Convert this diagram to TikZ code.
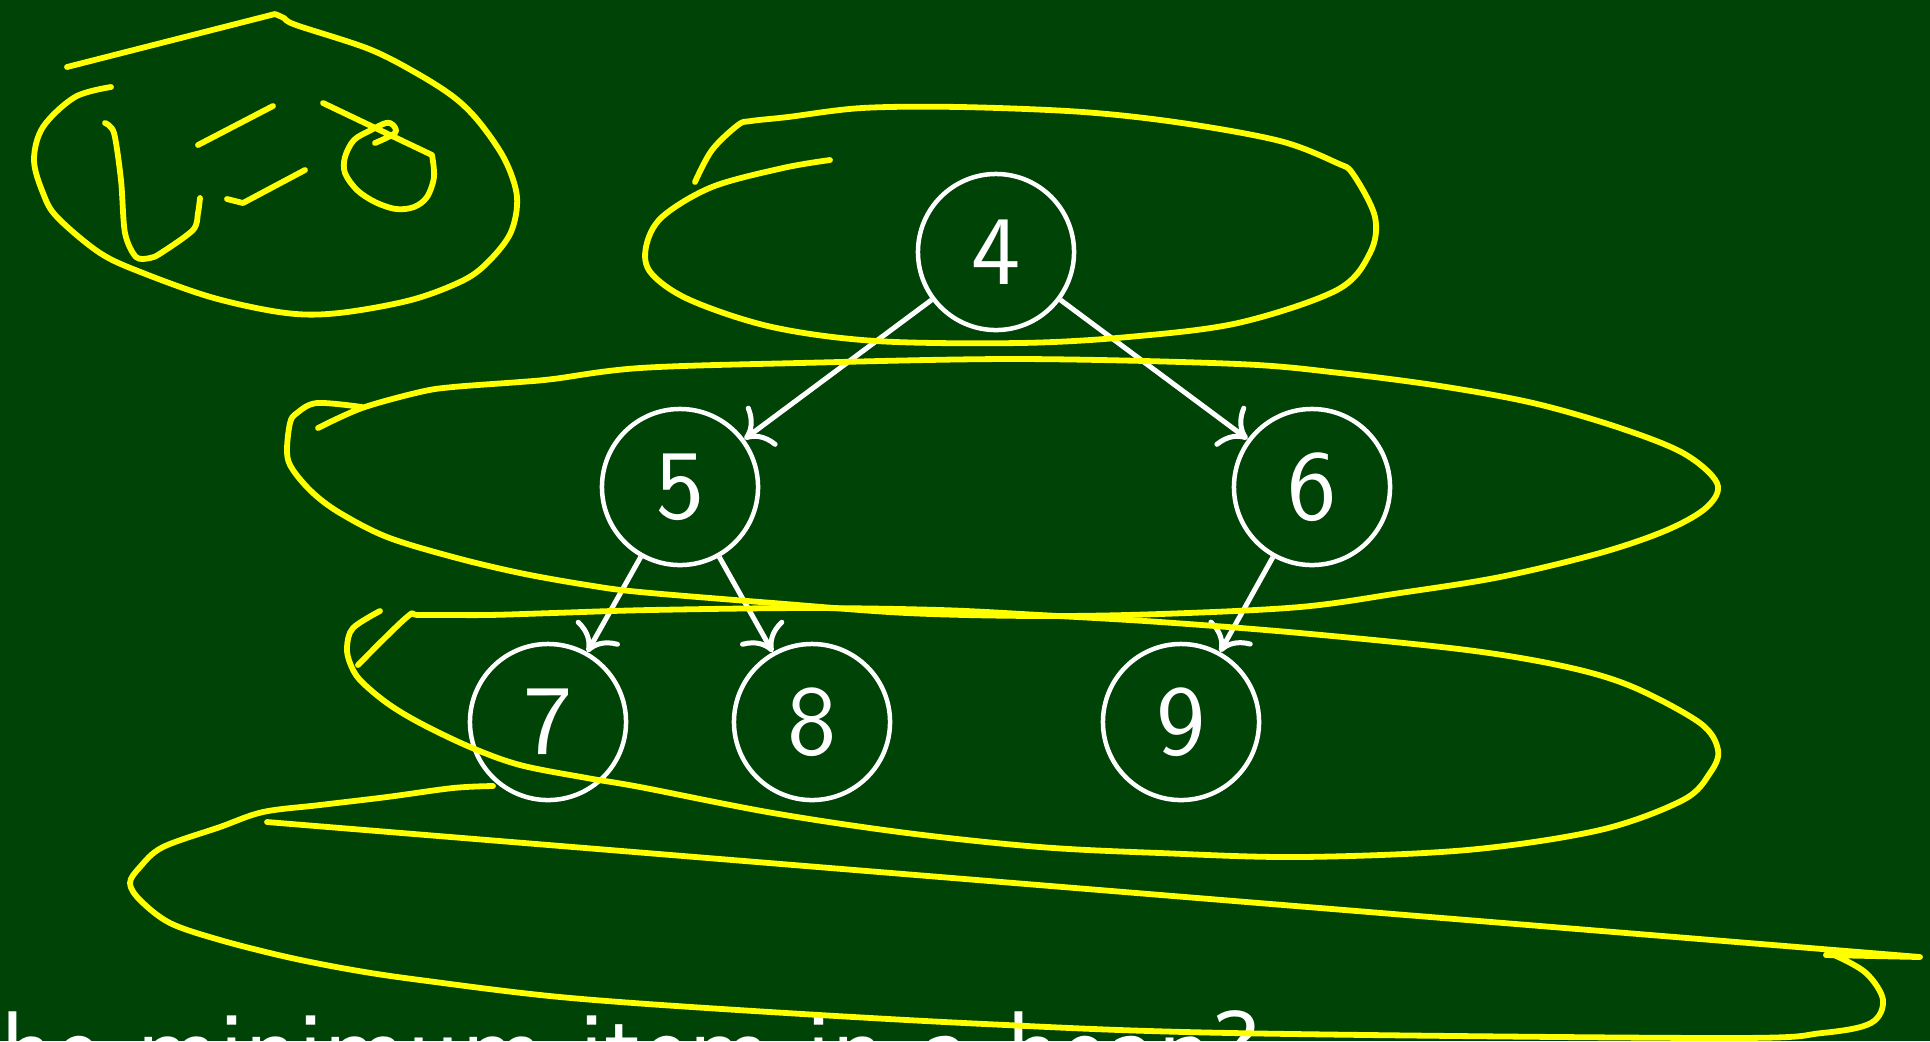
\documentclass[tikz,border=0pt]{standalone}
\usepackage{fontspec}
\newfontfamily\slidesans{lmsans10-regular}[Extension=.otf]
\usetikzlibrary{arrows.meta}
\definecolor{board}{RGB}{0,67,7}
\definecolor{marker}{RGB}{255,255,0}
\begin{document}
\begin{tikzpicture}[x=0.01cm,y=-0.01cm,
  heapnode/.style={circle,draw=white,line width=0.045cm,minimum size=1.56cm,inner sep=0pt,text=white,font=\slidesans\fontsize{28pt}{34pt}\selectfont},
  edgearrow/.style={draw=white,line width=0.05cm,-{Computer Modern Rightarrow[length=0.24cm,width=0.5cm]}},
  ink/.style={draw=marker,line width=0.058cm,line cap=round,line join=round}]
\useasboundingbox (0,0) rectangle (1930,1041);
\fill[board] (0,0) rectangle (1930,1041);
\clip (0,0) rectangle (1930,1041);

% bottom text (cut off by the page edge)
\node[anchor=base west,inner sep=0pt,text=white,font=\slidesans\fontsize{29.8pt}{35pt}\selectfont] (question) at (0,1084) {he minimum item in a heap?};

% tree
\node[heapnode] (n4) at (996,252) {4};
\node[heapnode] (n5) at (680,487) {5};
\node[heapnode] (n6) at (1312,487) {6};
\node[heapnode] (n7) at (548,722) {7};
\node[heapnode] (n8) at (812,722) {8};
\node[heapnode] (n9) at (1181,722) {9};
\draw[edgearrow] (n4) -- (n5);
\draw[edgearrow] (n4) -- (n6);
\draw[edgearrow] (n5) -- (n7);
\draw[edgearrow] (n5) -- (n8);
\draw[edgearrow] (n6) -- (n9);

% L=0 annotation
\draw[ink] (67,67) -- (275,14) plot[smooth,tension=0.55] coordinates {(275,14) (284,18) (296,25) (369,49) (418,74) (455,98) (480,123) (505,160) (517,197) (511,232) (490,260) (464,280) (411,300) (339,313) (286,313) (214,298) (143,273) (100,253) (57,217) (43,193) (34,160) (43,127) (75,97) (111,87)};
\draw[ink] plot[smooth,tension=0.5] coordinates {(105,123) (114,133) (121,180) (125,233) (136,257) (150,258) (161,253) (193,230) (198,213) (200,198)};
\draw[ink] (198,145) -- (273,106);
\draw[ink] (227,199) -- (243,203) -- (305,170);
\draw[ink] (323,103) -- (432,155) plot[smooth,tension=0.55] coordinates {(432,155) (434,177) (427,197) (414,207) (396,209) (375,202) (357,190) (345,173) (345,157) (354,140) (371,130) (386,123) (393,125) (395,133) (375,143)};

% level rings
\draw[ink] plot[smooth,tension=0.55] coordinates {(695,182) (712,150) (738,125) (751,121) (788,117) (862,108) (960,107) (1083,112) (1182,123) (1280,141) (1337,163) (1353,174) (1375,217) (1370,253) (1337,290) (1238,323) (1128,337) (1019,343) (876,341) (772,327) (690,300) (651,273) (646,247) (662,217) (712,187) (783,168) (830,160)};

\draw[ink] plot[smooth,tension=0.55] coordinates {(318,428) (362,408) (420,392) (453,387) (520,382) (553,379) (640,368) (799,363) (1019,359) (1238,364) (1340,373) (1440,386) (1533,403) (1617,427) (1683,453) (1717,483) (1707,507) (1667,530) (1600,553) (1500,577) (1400,593) (1300,607) (1160,614) (1040,616) (907,613) (773,603) (640,592) (587,585) (520,573) (453,557) (387,537) (340,513) (313,493) (293,470) (287,453) (290,423) (297,413) (317,403) (362,407)};

\draw[ink] plot[smooth,tension=0.55] coordinates {(380,611) (353,628) (347,647) (350,663) (360,680) (387,703) (420,723) (470,747) (520,765) (587,778) (640,787) (773,813) (907,833) (1040,847) (1160,853) (1300,857) (1467,850) (1600,830) (1683,800) (1710,773) (1718,750) (1700,723) (1633,687) (1567,667) (1467,650) (1300,633) (1160,622) (1040,615) (940,610) (807,608) (650,610) (553,613) (487,615) (420,615) (407,617) (358,665)};

\draw[ink] plot[smooth,tension=0.55] coordinates {(493,786) (453,788) (387,797) (320,805) (263,812) (220,827) (163,847) (140,867) (130,883) (140,900) (170,923) (220,940) (287,957) (353,970) (420,980) (560,997) (738,1010) (985,1024) (1231,1033) (1723,1038) (1822,1033) (1871,1023) (1883,1000) (1866,973) (1834,955) (1826,955)} -- (1920,957) -- (267,822);
\end{tikzpicture}
\end{document}
